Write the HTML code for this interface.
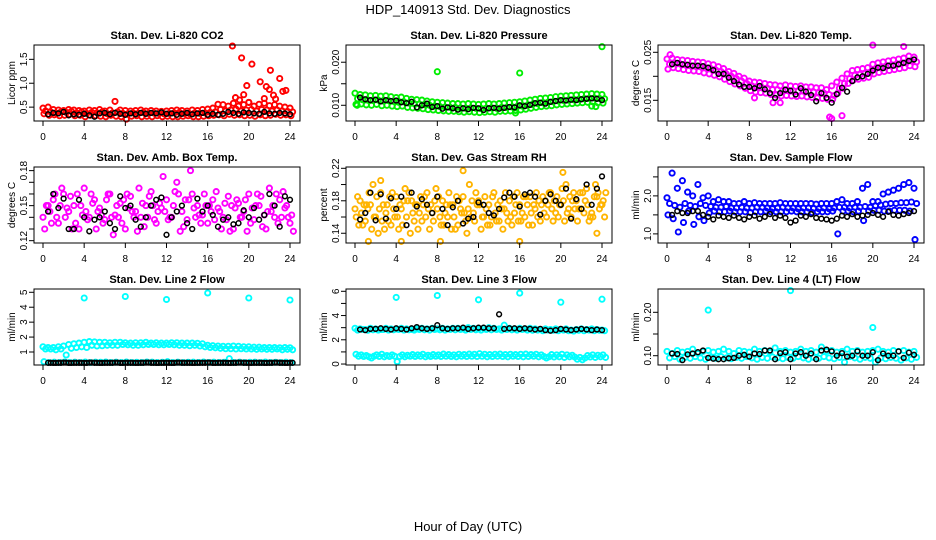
<!DOCTYPE html>
<html><head><meta charset="utf-8"><style>
html,body{margin:0;padding:0;background:#fff;}
svg{display:block;font-family:"Liberation Sans",Arial,sans-serif;}
</style></head><body>
<svg id="chart" width="936" height="540" viewBox="0 0 936 540">
<text x="468" y="14" font-size="13" text-anchor="middle">HDP_140913  Std. Dev. Diagnostics</text>
<text x="468" y="531" font-size="13" text-anchor="middle">Hour of Day (UTC)</text>
</svg>
<script>
// ---- data (hour series: start hour, step 0.5 h) ----
const xTicks = [0,4,8,12,16,20,24];
// Panel 1 CO2
const co2Hi = [0.48,0.5,0.45,0.44,0.43,0.45,0.44,0.43,0.42,0.44,0.43,0.45,0.42,0.44,0.62,0.44,0.43,0.42,0.43,0.44,0.42,0.43,0.42,0.41,0.42,0.43,0.44,0.43,0.42,0.44,0.43,0.45,0.46,0.48,0.56,0.55,0.52,0.58,0.52,0.55,0.6,0.52,0.56,0.58,0.53,0.55,0.52,0.5,0.48];
const co2Mid = [0.42,0.4,0.38,0.4,0.39,0.41,0.38,0.4,0.37,0.39,0.38,0.4,0.36,0.38,0.4,0.37,0.36,0.38,0.37,0.39,0.37,0.38,0.37,0.36,0.37,0.38,0.39,0.37,0.36,0.38,0.37,0.38,0.39,0.4,0.45,0.42,0.44,0.46,0.42,0.44,0.45,0.42,0.45,0.44,0.42,0.44,0.42,0.41,0.4];
const co2Lo = [0.36,0.33,0.34,0.32,0.33,0.35,0.32,0.33,0.3,0.33,0.32,0.31,0.3,0.33,0.31,0.3,0.25,0.31,0.32,0.3,0.31,0.3,0.32,0.3,0.31,0.3,0.3,0.31,0.32,0.3,0.3,0.31,0.32,0.33,0.34,0.32,0.35,0.33,0.34,0.32,0.33,0.31,0.34,0.32,0.33,0.35,0.33,0.34,0.32];
const co2OutH = [18.4,19.3,20.3,18.7,19.5,19.8,19.1,20,21.1,22.1,21.7,22,23,23.3,23.6,22.4,21.5,22.6];
const co2OutV = [1.78,1.53,1.4,0.7,0.76,0.95,0.65,0.6,1.03,1.27,0.93,0.87,1.1,0.83,0.85,0.75,0.68,0.67];
const co2Blk = [0.35,0.38,0.37,0.4,0.33,0.35,0.34,0.36,0.33,0.3,0.37,0.38,0.35,0.38,0.36,0.34,0.37,0.35,0.38,0.36,0.38,0.37,0.39,0.36,0.37,0.34,0.36,0.38,0.35,0.37,0.38,0.34,0.36,0.34,0.36,0.4,0.38,0.36,0.39,0.38,0.37,0.36,0.4,0.37,0.36,0.38,0.37,0.35];
// Panel 2 Pressure
const prHi = [0.0128,0.0125,0.0124,0.0122,0.0123,0.0121,0.0122,0.012,0.0118,0.0119,0.0116,0.0114,0.0113,0.0112,0.011,0.0108,0.0107,0.0106,0.0105,0.0104,0.0104,0.0103,0.0104,0.0103,0.0102,0.0103,0.0104,0.0103,0.0104,0.0105,0.0106,0.0107,0.0108,0.011,0.0112,0.0114,0.0116,0.0117,0.0118,0.012,0.0121,0.0122,0.0123,0.0124,0.0125,0.0126,0.0127,0.0126,0.0125];
const prMid = [0.0115,0.0113,0.0112,0.0111,0.0112,0.011,0.0111,0.0109,0.0107,0.0108,0.0105,0.0104,0.0103,0.0102,0.01,0.0098,0.0097,0.0096,0.0095,0.0095,0.0094,0.0093,0.0094,0.0093,0.0092,0.0093,0.0094,0.0093,0.0095,0.0095,0.0096,0.0097,0.0098,0.01,0.0102,0.0104,0.0106,0.0107,0.0108,0.011,0.0111,0.0112,0.0113,0.0114,0.0115,0.0116,0.0117,0.0116,0.0115];
const prLo = [0.0102,0.0103,0.0101,0.01,0.0102,0.0099,0.01,0.0098,0.0097,0.0098,0.0095,0.0094,0.0093,0.0092,0.009,0.0089,0.0088,0.0087,0.0086,0.0086,0.0085,0.0084,0.0085,0.0084,0.0083,0.0084,0.0085,0.0084,0.0086,0.0086,0.0087,0.0088,0.0089,0.0091,0.0093,0.0095,0.0097,0.0098,0.0099,0.0101,0.0102,0.0103,0.0104,0.0105,0.0106,0.0107,0.0108,0.0106,0.0105];
const prOutH = [8,16,24,0.2,23.4,23,15.6];
const prOutV = [0.0178,0.0175,0.0236,0.0100,0.0097,0.0098,0.0082];
const prBlk = [0.0118,0.0114,0.0112,0.0113,0.0109,0.0112,0.011,0.0111,0.0107,0.0105,0.0108,0.0095,0.01,0.0104,0.0096,0.0098,0.0092,0.0095,0.0093,0.009,0.0093,0.0091,0.0094,0.0093,0.0089,0.0093,0.0094,0.0092,0.0094,0.0096,0.0095,0.01,0.0098,0.0101,0.0105,0.0106,0.0104,0.0108,0.011,0.0112,0.0111,0.0113,0.0112,0.0114,0.0115,0.0116,0.0115,0.0112];
// Panel 3 Temp
const tpHi = [0.0236,0.0238,0.0235,0.0234,0.0233,0.0231,0.023,0.0229,0.0226,0.0224,0.022,0.0216,0.021,0.0206,0.02,0.0196,0.019,0.0188,0.0187,0.0185,0.0183,0.0182,0.018,0.0182,0.018,0.0179,0.018,0.0178,0.0178,0.0176,0.0176,0.0172,0.018,0.0188,0.0196,0.0205,0.0212,0.0214,0.0216,0.0218,0.0225,0.0228,0.023,0.0232,0.0234,0.0236,0.0238,0.0242,0.024];
const tpMid = [0.0225,0.0228,0.0226,0.0224,0.0222,0.0221,0.022,0.0218,0.0216,0.0213,0.021,0.0205,0.02,0.0195,0.019,0.0185,0.018,0.0178,0.0176,0.0175,0.0172,0.0172,0.017,0.0171,0.017,0.0169,0.017,0.0168,0.0167,0.0166,0.0165,0.0162,0.016,0.0175,0.0185,0.0195,0.0202,0.0204,0.0206,0.0208,0.0215,0.0218,0.022,0.0222,0.0224,0.0226,0.0228,0.0232,0.023];
const tpLo = [0.0215,0.0218,0.0216,0.0214,0.0212,0.0211,0.021,0.0207,0.0205,0.0202,0.0199,0.0194,0.0189,0.0184,0.018,0.0175,0.017,0.0167,0.0166,0.0165,0.0162,0.0161,0.0159,0.016,0.0159,0.0158,0.0159,0.0157,0.0156,0.0155,0.0154,0.0152,0.0152,0.0165,0.0175,0.0185,0.0192,0.0194,0.0196,0.0198,0.0205,0.0208,0.021,0.0212,0.0214,0.0216,0.0218,0.0222,0.022];
const tpOutH = [17,16,15.8,10.3,11,8.5,20,23,0.3];
const tpOutV = [0.0118,0.0112,0.0115,0.0145,0.0145,0.0155,0.0265,0.0262,0.0245];
const tpBlk = [0.0225,0.0228,0.0225,0.0224,0.0222,0.0222,0.0221,0.0218,0.0213,0.0205,0.0205,0.0197,0.019,0.0183,0.0178,0.0178,0.0175,0.018,0.0173,0.0165,0.0155,0.0165,0.0172,0.017,0.0162,0.0175,0.0168,0.0161,0.0148,0.0165,0.0155,0.0145,0.0163,0.0176,0.0168,0.019,0.0198,0.02,0.0205,0.0212,0.0218,0.0217,0.0222,0.0222,0.0225,0.0228,0.0232,0.0235];
// Panel 4 Amb box temp
const abA = [0.14,0.15,0.155,0.135,0.16,0.145,0.15,0.13,0.165,0.14,0.155,0.148,0.138,0.16,0.142,0.152,0.13,0.158,0.145,0.14,0.15,0.162,0.135,0.148,0.155,0.14,0.17,0.145,0.138,0.16,0.15,0.142,0.135,0.155,0.148,0.14,0.158,0.13,0.152,0.145,0.16,0.138,0.15,0.142,0.165,0.14,0.155,0.148,0.135];
const abB = [0.13,0.145,0.16,0.15,0.14,0.158,0.135,0.15,0.145,0.16,0.13,0.142,0.155,0.14,0.15,0.135,0.16,0.145,0.128,0.152,0.14,0.15,0.145,0.175,0.138,0.15,0.16,0.132,0.155,0.148,0.142,0.16,0.15,0.138,0.145,0.152,0.128,0.148,0.14,0.155,0.135,0.15,0.158,0.13,0.145,0.16,0.14,0.15,0.142];
const abC = [0.15,0.135,0.14,0.165,0.148,0.13,0.16,0.142,0.138,0.152,0.145,0.135,0.16,0.125,0.14,0.155,0.148,0.14,0.165,0.132,0.158,0.138,0.152,0.145,0.14,0.162,0.128,0.155,0.18,0.14,0.135,0.15,0.145,0.162,0.13,0.138,0.15,0.155,0.14,0.128,0.148,0.16,0.132,0.145,0.15,0.135,0.162,0.14,0.128];
const abBlk = [0.145,0.16,0.148,0.156,0.13,0.13,0.155,0.14,0.128,0.138,0.14,0.145,0.135,0.13,0.158,0.148,0.15,0.138,0.132,0.14,0.15,0.155,0.157,0.125,0.14,0.145,0.15,0.135,0.13,0.156,0.145,0.15,0.142,0.132,0.138,0.14,0.134,0.135,0.146,0.14,0.148,0.138,0.142,0.16,0.15,0.132,0.158,0.155];
// Panel 5 RH
const rhA = [0.17,0.18,0.155,0.175,0.16,0.19,0.165,0.15,0.185,0.17,0.16,0.18,0.175,0.155,0.19,0.165,0.17,0.18,0.16,0.175,0.15,0.185,0.17,0.165,0.18,0.16,0.175,0.19,0.155,0.17,0.18,0.165,0.175,0.16,0.185,0.17,0.155,0.18,0.19,0.165,0.175,0.2,0.16,0.18,0.17,0.195,0.165,0.185,0.175];
const rhB = [0.16,0.165,0.175,0.145,0.185,0.155,0.175,0.19,0.16,0.15,0.18,0.165,0.145,0.175,0.17,0.155,0.185,0.15,0.19,0.16,0.18,0.165,0.2,0.155,0.175,0.185,0.15,0.165,0.18,0.19,0.16,0.175,0.155,0.185,0.165,0.19,0.175,0.16,0.17,0.185,0.195,0.165,0.18,0.155,0.19,0.175,0.16,0.19,0.18];
const rhC = [0.185,0.15,0.17,0.2,0.14,0.175,0.155,0.17,0.145,0.18,0.19,0.155,0.165,0.185,0.145,0.18,0.16,0.165,0.175,0.145,0.17,0.155,0.16,0.19,0.145,0.17,0.16,0.155,0.17,0.165,0.15,0.19,0.165,0.175,0.15,0.16,0.185,0.175,0.155,0.16,0.18,0.17,0.19,0.17,0.165,0.155,0.185,0.17,0.16];
const rhD = [0.15,0.175,0.19,0.16,0.17,0.145,0.185,0.16,0.175,0.195,0.14,0.175,0.185,0.16,0.175,0.195,0.15,0.175,0.145,0.185,0.165,0.14,0.18,0.175,0.16,0.15,0.185,0.175,0.145,0.155,0.185,0.155,0.185,0.15,0.175,0.18,0.165,0.19,0.18,0.175,0.155,0.185,0.17,0.19,0.18,0.16,0.2,0.175,0.19];
const rhOutH = [1.3,2.5,4.5,10.5,16,20.2,23.5,8.3];
const rhOutV = [0.13,0.205,0.13,0.217,0.13,0.215,0.14,0.13];
const rhBlk = [0.157,0.165,0.19,0.156,0.188,0.158,0.183,0.17,0.185,0.15,0.19,0.173,0.182,0.175,0.165,0.185,0.17,0.15,0.172,0.18,0.152,0.158,0.16,0.178,0.175,0.165,0.162,0.17,0.184,0.19,0.185,0.173,0.188,0.19,0.185,0.163,0.18,0.188,0.18,0.175,0.195,0.158,0.182,0.17,0.2,0.175,0.195,0.21];
// Panel 6 Sample flow
const sfHi = [1.95,2.6,2.2,2.4,2.1,2.0,2.3,1.95,2.0,1.85,1.9,1.85,1.85,1.8,1.8,1.85,1.8,1.82,1.8,1.8,1.8,1.8,1.82,1.8,1.8,1.8,1.8,1.8,1.8,1.78,1.8,1.8,1.8,1.85,1.9,1.8,1.8,1.85,2.2,2.3,1.85,1.85,2.05,2.1,2.15,2.2,2.3,2.35,2.2];
const sfMid = [1.8,1.75,1.7,1.8,1.75,1.72,1.8,1.75,1.72,1.7,1.7,1.72,1.68,1.68,1.7,1.68,1.68,1.7,1.7,1.68,1.66,1.68,1.7,1.68,1.68,1.66,1.68,1.68,1.67,1.66,1.68,1.66,1.68,1.7,1.7,1.68,1.7,1.7,1.72,1.7,1.74,1.76,1.78,1.8,1.8,1.82,1.82,1.84,1.8];
const sfLo = [1.5,1.4,1.05,1.3,1.6,1.25,1.45,1.35,1.55,1.6,1.58,1.58,1.6,1.58,1.58,1.58,1.56,1.58,1.58,1.6,1.58,1.58,1.58,1.58,1.6,1.58,1.58,1.58,1.56,1.58,1.58,1.58,1.6,1.0,1.6,1.6,1.58,1.6,1.35,1.6,1.62,1.62,1.6,1.6,1.62,1.62,1.62,1.6,0.85];
const sfBlk = [1.5,1.6,1.55,1.55,1.6,1.6,1.5,1.45,1.38,1.48,1.45,1.42,1.48,1.42,1.38,1.45,1.48,1.4,1.45,1.52,1.42,1.48,1.42,1.3,1.35,1.48,1.45,1.52,1.42,1.4,1.38,1.35,1.4,1.48,1.45,1.52,1.45,1.48,1.5,1.55,1.5,1.45,1.58,1.5,1.48,1.52,1.55,1.6];
// Panel 7 Line 2 flow
const l2Hi = [1.35,1.3,1.3,1.35,1.4,1.5,1.55,1.6,1.65,1.7,1.68,1.65,1.65,1.62,1.65,1.65,1.62,1.6,1.62,1.62,1.65,1.6,1.62,1.6,1.6,1.62,1.62,1.6,1.6,1.6,1.58,1.55,1.45,1.42,1.4,1.38,1.38,1.4,1.38,1.35,1.35,1.32,1.32,1.3,1.3,1.3,1.28,1.3,1.28];
const l2Lo = [1.2,1.2,1.15,1.2,0.8,1.25,1.3,1.35,1.3,1.45,1.4,1.42,1.45,1.45,1.45,1.5,1.48,1.45,1.45,1.48,1.5,1.5,1.48,1.48,1.5,1.48,1.45,1.45,1.42,1.45,1.4,1.35,1.3,1.28,1.25,1.22,1.22,1.2,1.22,1.2,1.2,1.18,1.2,1.18,1.18,1.2,1.15,1.18,1.15];
const l2Base = [0.35,0.3,0.32,0.3,0.33,0.3,0.32,0.3,0.33,0.3,0.32,0.31,0.33,0.3,0.32,0.3,0.33,0.3,0.31,0.3,0.33,0.32,0.3,0.31,0.35,0.3,0.32,0.3,0.31,0.32,0.3,0.33,0.3,0.32,0.3,0.31,0.55,0.3,0.32,0.3,0.31,0.32,0.3,0.33,0.3,0.31,0.3,0.32,0.3];
const l2OutH = [4,8,12,16,20,24];
const l2OutV = [4.62,4.72,4.52,4.95,4.62,4.48];
const l2Blk = [0.28,0.27,0.28,0.29,0.27,0.28,0.28,0.27,0.29,0.28,0.27,0.28,0.28,0.29,0.27,0.28,0.28,0.27,0.28,0.29,0.28,0.27,0.28,0.28,0.27,0.29,0.28,0.28,0.27,0.28,0.28,0.29,0.27,0.28,0.28,0.27,0.28,0.29,0.28,0.27,0.28,0.28,0.27,0.28,0.29,0.28,0.27,0.28];
// Panel 8 Line 3 flow
const l3A = [2.95,2.9,2.85,2.95,2.9,2.85,2.95,2.9,2.9,2.95,2.9,2.85,2.9,2.95,2.9,2.95,2.9,2.95,2.9,2.95,2.95,2.9,3.0,2.95,2.9,2.95,3.0,2.95,2.9,3.2,2.95,2.9,2.95,2.9,2.95,2.9,2.85,2.9,2.85,2.9,2.85,2.9,2.8,2.85,2.9,2.85,2.9,2.85,2.8];
const l3B = [2.8,2.85,2.78,2.82,2.8,2.85,2.8,2.82,2.85,2.8,2.82,2.8,2.85,2.82,2.8,2.85,2.82,2.8,2.85,2.82,2.85,2.8,2.85,2.82,2.8,2.85,2.82,2.85,2.8,2.85,2.82,2.8,2.85,2.8,2.78,2.8,2.75,2.8,2.78,2.75,2.8,2.75,2.72,2.78,2.75,2.8,2.75,2.78,2.75];
const l3C = [0.8,0.75,0.7,0.5,0.75,0.8,0.7,0.75,0.2,0.75,0.72,0.78,0.75,0.8,0.72,0.78,0.75,0.82,0.78,0.75,0.8,0.78,0.82,0.8,0.85,0.8,0.78,0.8,0.82,0.78,0.8,0.78,0.8,0.82,0.78,0.8,0.75,0.5,0.78,0.75,0.8,0.75,0.72,0.4,0.35,0.7,0.75,0.72,0.75];
const l3D = [0.65,0.62,0.6,0.65,0.62,0.6,0.62,0.65,0.62,0.6,0.65,0.62,0.65,0.6,0.62,0.65,0.62,0.65,0.62,0.6,0.65,0.62,0.65,0.62,0.65,0.6,0.62,0.65,0.62,0.6,0.65,0.62,0.6,0.62,0.65,0.6,0.62,0.6,0.58,0.6,0.55,0.6,0.58,0.55,0.5,0.58,0.55,0.6,0.55];
const l3OutH = [4,8,12,16,20,24];
const l3OutV = [5.5,5.65,5.3,5.85,5.1,5.35];
const l3Blk = [2.85,2.8,2.9,2.9,2.95,2.9,2.85,2.95,2.9,2.85,2.95,3.05,2.95,2.9,2.95,3.2,2.95,2.9,2.95,2.95,3.0,2.9,2.95,3.0,3.0,2.95,2.95,4.1,2.9,2.95,2.95,2.9,2.95,2.9,2.85,2.9,2.8,2.75,2.8,2.9,2.85,2.8,2.85,2.9,2.85,2.8,2.85,2.8];
// Panel 9 Line 4 flow
const l4A = [0.11,0.105,0.112,0.108,0.11,0.115,0.105,0.11,0.112,0.108,0.11,0.115,0.11,0.105,0.112,0.11,0.108,0.115,0.11,0.112,0.108,0.118,0.11,0.112,0.108,0.11,0.115,0.11,0.112,0.108,0.12,0.11,0.112,0.108,0.11,0.115,0.11,0.112,0.108,0.11,0.112,0.115,0.11,0.108,0.112,0.11,0.112,0.108,0.11];
const l4B = [0.095,0.098,0.092,0.096,0.094,0.098,0.095,0.092,0.096,0.094,0.098,0.095,0.093,0.096,0.094,0.098,0.095,0.092,0.096,0.094,0.097,0.095,0.093,0.096,0.094,0.098,0.095,0.092,0.096,0.094,0.098,0.095,0.093,0.096,0.085,0.098,0.095,0.092,0.096,0.094,0.085,0.095,0.093,0.096,0.094,0.09,0.095,0.092,0.096];
const l4OutH = [4,12,20];
const l4OutV = [0.205,0.25,0.165];
const l4Blk = [0.105,0.104,0.09,0.103,0.105,0.108,0.112,0.095,0.093,0.092,0.092,0.094,0.095,0.1,0.102,0.098,0.105,0.104,0.112,0.112,0.092,0.106,0.108,0.092,0.105,0.108,0.1,0.105,0.092,0.112,0.114,0.11,0.1,0.106,0.098,0.1,0.11,0.1,0.1,0.108,0.09,0.105,0.1,0.1,0.11,0.095,0.107,0.102];

const NS = 'http://www.w3.org/2000/svg';
const svg = document.getElementById('chart');
function mk(tag, attrs, parent) {
  const e = document.createElementNS(NS, tag);
  for (const k in attrs) e.setAttribute(k, attrs[k]);
  (parent || svg).appendChild(e);
  return e;
}

function panel(col, row, title, ylab, ymin, ymax, yTicks, yLabels, series, key) {
  const x0 = 34 + col * 312, w = 266, y0 = 45 + row * 122, h = 76;
  const g = mk('g', {});
  
  
  const xs = hr => x0 + 9 + hr / 24 * 247;
  const ys = v => y0 + h - (v - ymin) / (ymax - ymin) * h;
  const t = mk('text', {x: x0 + w / 2, y: y0 - 6, 'font-size': 11, 'font-weight': 'bold', 'text-anchor': 'middle'}, g);
  t.textContent = title;
  
  
  const yl = mk('text', {x: 0, y: 0, 'font-size': 10, 'text-anchor': 'middle', transform: `translate(${x0 - 19},${y0 + h / 2}) rotate(-90)`}, g);
  yl.textContent = ylab;
  
  
  const pts = mk('g', {fill: 'none'}, g);
  
  
  series.forEach(s => {
    const isBlk = s.color === '#000000';
    s.vals.forEach((v, i) => {
      const hr = s.hours ? s.hours[i] : s.start + i * 0.5;
      const c = mk('circle', {cx: xs(hr).toFixed(1), cy: ys(v).toFixed(1), r: isBlk ? 2.4 : 2.6, stroke: s.color, 'stroke-width': isBlk ? 1.5 : 1.9}, pts);
      
      
    });
  });
  const box = mk('rect', {x: x0, y: y0, width: w, height: h, fill: 'none', stroke: '#000', 'stroke-width': 1}, g);
  
  
  const xa = mk('g', {stroke: '#000', 'stroke-width': 1}, g);
  
  
  mk('line', {x1: xs(0), x2: xs(24), y1: y0 + h, y2: y0 + h}, xa);
  xTicks.forEach(tk => {
    mk('line', {x1: xs(tk), x2: xs(tk), y1: y0 + h, y2: y0 + h + 5}, xa);
    const tl = mk('text', {x: xs(tk), y: y0 + h + 19, 'font-size': 10, 'text-anchor': 'middle', stroke: 'none'}, xa);
    tl.textContent = tk;
    
    
  });
  const ya = mk('g', {stroke: '#000', 'stroke-width': 1}, g);
  
  
  mk('line', {x1: x0, x2: x0, y1: ys(yTicks[0]), y2: ys(yTicks[yTicks.length - 1])}, ya);
  yTicks.forEach((tk, i) => {
    mk('line', {x1: x0 - 5, x2: x0, y1: ys(tk), y2: ys(tk)}, ya);
    if (yLabels[i]) {
      const tl = mk('text', {x: 0, y: 0, 'font-size': 10, 'text-anchor': 'middle', stroke: 'none', transform: `translate(${x0 - 7},${ys(tk)}) rotate(-90)`}, ya);
      tl.textContent = yLabels[i];
      
      
    }
  });
}

const R = '#ff0000', G = '#00ee00', M = '#ff00ff', B = '#0000ff', C = '#00ffff', O = '#ffb400', K = '#000000';
panel(0, 0, 'Stan. Dev. Li-820 CO2', 'Licor ppm', 0.21, 1.80, [0.5, 1, 1.5], ['0.5', '1.0', '1.5'], [
  {vals: co2Hi, start: 0, color: R, name: 'co2'}, {vals: co2Mid, start: 0.25, color: R, name: 'co2'}, {vals: co2Lo, start: 0.1, color: R, name: 'co2'},
  {vals: co2OutV, hours: co2OutH, color: R, name: 'co2-outlier'}, {vals: co2Blk, start: 0.5, color: K, name: 'co2-hourly'}], 'co2');
panel(1, 0, 'Stan. Dev. Li-820 Pressure', 'kPa', 0.00635, 0.0240, [0.010, 0.015, 0.020], ['0.010', '', '0.020'], [
  {vals: prHi, start: 0, color: G, name: 'pressure'}, {vals: prMid, start: 0.25, color: G, name: 'pressure'}, {vals: prLo, start: 0.1, color: G, name: 'pressure'},
  {vals: prOutV, hours: prOutH, color: G, name: 'pressure-outlier'}, {vals: prBlk, start: 0.5, color: K, name: 'pressure-hourly'}], 'pressure');
panel(2, 0, 'Stan. Dev. Li-820 Temp.', 'degrees C', 0.01069, 0.02652, [0.015, 0.020, 0.025], ['0.015', '', '0.025'], [
  {vals: tpHi, start: 0, color: M, name: 'temp'}, {vals: tpMid, start: 0.25, color: M, name: 'temp'}, {vals: tpLo, start: 0.1, color: M, name: 'temp'},
  {vals: tpOutV, hours: tpOutH, color: M, name: 'temp-outlier'}, {vals: tpBlk, start: 0.5, color: K, name: 'temp-hourly'}], 'temp');
panel(0, 1, 'Stan. Dev. Amb. Box Temp.', 'degrees C', 0.118, 0.1831, [0.12, 0.13, 0.14, 0.15, 0.16, 0.17, 0.18], ['0.12', '', '', '0.15', '', '', '0.18'], [
  {vals: abA, start: 0, color: M, name: 'ambbox'}, {vals: abB, start: 0.17, color: M, name: 'ambbox'}, {vals: abC, start: 0.33, color: M, name: 'ambbox'},
  {vals: abBlk, start: 0.5, color: K, name: 'ambbox-hourly'}], 'ambbox');
panel(1, 1, 'Stan. Dev. Gas Stream RH', 'percent', 0.128, 0.2216, [0.14, 0.16, 0.18, 0.20, 0.22], ['0.14', '', '0.18', '', '0.22'], [
  {vals: rhA, start: 0, color: O, name: 'rh'}, {vals: rhB, start: 0.12, color: O, name: 'rh'}, {vals: rhC, start: 0.25, color: O, name: 'rh'}, {vals: rhD, start: 0.37, color: O, name: 'rh'},
  {vals: rhOutV, hours: rhOutH, color: O, name: 'rh-outlier'}, {vals: rhBlk, start: 0.5, color: K, name: 'rh-hourly'}], 'rh');
panel(2, 1, 'Stan. Dev. Sample Flow', 'ml/min', 0.76, 2.76, [1, 1.5, 2, 2.5], ['1.0', '', '2.0', ''], [
  {vals: sfHi, start: 0, color: B, name: 'sampleflow'}, {vals: sfMid, start: 0.25, color: B, name: 'sampleflow'}, {vals: sfLo, start: 0.1, color: B, name: 'sampleflow'},
  {vals: sfBlk, start: 0.5, color: K, name: 'sampleflow-hourly'}], 'sampleflow');
panel(0, 2, 'Stan. Dev. Line 2 Flow', 'ml/min', 0.13, 5.22, [1, 2, 3, 4, 5], ['1', '2', '3', '4', '5'], [
  {vals: l2Hi, start: 0, color: C, name: 'line2'}, {vals: l2Lo, start: 0.25, color: C, name: 'line2'}, {vals: l2Base, start: 0.1, color: C, name: 'line2'},
  {vals: l2OutV, hours: l2OutH, color: C, name: 'line2-outlier'}, {vals: l2Blk, start: 0.5, color: K, name: 'line2-hourly'}, {vals: l2Blk, start: 0.75, color: K, name: 'line2-hourly'}], 'line2');
panel(1, 2, 'Stan. Dev. Line 3 Flow', 'ml/min', -0.08, 6.19, [0, 1, 2, 3, 4, 5, 6], ['0', '', '2', '', '4', '', '6'], [
  {vals: l3A, start: 0, color: C, name: 'line3'}, {vals: l3B, start: 0.25, color: C, name: 'line3'}, {vals: l3C, start: 0.1, color: C, name: 'line3'}, {vals: l3D, start: 0.35, color: C, name: 'line3'},
  {vals: l3OutV, hours: l3OutH, color: C, name: 'line3-outlier'}, {vals: l3Blk, start: 0.5, color: K, name: 'line3-hourly'}], 'line3');
panel(2, 2, 'Stan. Dev. Line 4 (LT) Flow', 'ml/min', 0.0786, 0.2537, [0.10, 0.15, 0.20], ['0.10', '', '0.20'], [
  {vals: l4A, start: 0, color: C, name: 'line4'}, {vals: l4B, start: 0.25, color: C, name: 'line4'},
  {vals: l4OutV, hours: l4OutH, color: C, name: 'line4-outlier'}, {vals: l4Blk, start: 0.5, color: K, name: 'line4-hourly'}], 'line4');
</script>
</body></html>
